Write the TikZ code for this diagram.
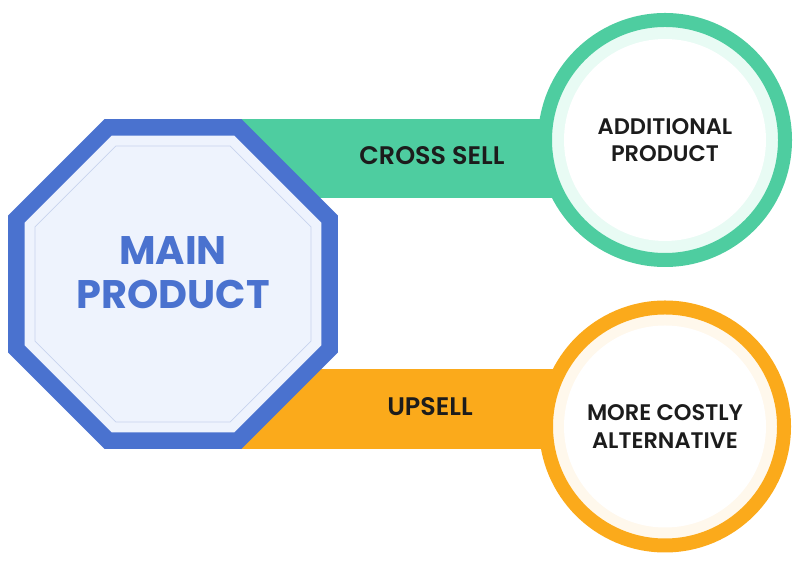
\documentclass[tikz,border=0pt]{standalone}
\usepackage{fontspec}
\setmainfont{Poppins}[BoldFont={Poppins SemiBold}]
\newfontfamily\heavyfont{Poppins Bold}
\usetikzlibrary{shapes.geometric,backgrounds,calc}
\definecolor{mainblue}{HTML}{4A72CF}
\definecolor{mainlight}{HTML}{EEF3FD}
\definecolor{thinline}{HTML}{C8D3EE}
\definecolor{addgreen}{HTML}{4ECDA0}
\definecolor{addmint}{HTML}{E8FBF4}
\definecolor{altorange}{HTML}{FBAA1B}
\definecolor{altcream}{HTML}{FFF8EC}
\definecolor{inkdark}{HTML}{1C1C1C}
\begin{document}
\begin{tikzpicture}[x=1bp,y=1bp,
  octa/.style={regular polygon,regular polygon sides=8,inner sep=0pt},
  ring/.style={circle,inner sep=0pt},
  bandtext/.style={font=\bfseries\fontsize{25.5}{29}\selectfont,text=inkdark},
  ringtext/.style={font=\bfseries\fontsize{22.6}{27.5}\selectfont,text=inkdark,align=center},
]
\useasboundingbox (0,0) rectangle (800,567);
%%
\node (main) at (173,283) [octa,draw=mainblue,line width=16.5bp,fill=mainlight,minimum size=339.3bp] {};
  \node (mainin) at (main.center) [octa,draw=thinline,line width=0.6bp,minimum size=298.7bp] {};
  \node (maintext) at ([yshift=11bp]main.center) [font=\heavyfont\fontsize{40}{44}\selectfont,text=mainblue,align=center] {MAIN\\PRODUCT};
  \node (add) at (665,427) [ring,draw=addgreen,line width=14bp,fill=addmint,minimum size=240bp] {};
  \node (addin) at (add.center) [ring,fill=white,minimum size=202bp] {};
  \node (addtext) at (add.center) [ringtext] {ADDITIONAL\\PRODUCT};
  \node (alt) at (665,140.5) [ring,draw=altorange,line width=14bp,fill=altcream,minimum size=238bp] {};
  \node (altin) at (alt.center) [ring,fill=white,minimum size=202bp] {};
  \node (alttext) at (alt.center) [ringtext] {MORE COSTLY\\ALTERNATIVE};
  \node (cross) at (432,411) [bandtext] {CROSS SELL};
  \node (up) at (430,160) [bandtext] {UPSELL};
  \begin{scope}[on background layer]
  \fill [addgreen] (main.north) rectangle ($(add.center |- main.north)+(0,-79)$);
  \fill [altorange] (main.south) rectangle ($(alt.center |- main.south)+(0,80)$);
  \end{scope}
%
\end{tikzpicture}
\end{document}
